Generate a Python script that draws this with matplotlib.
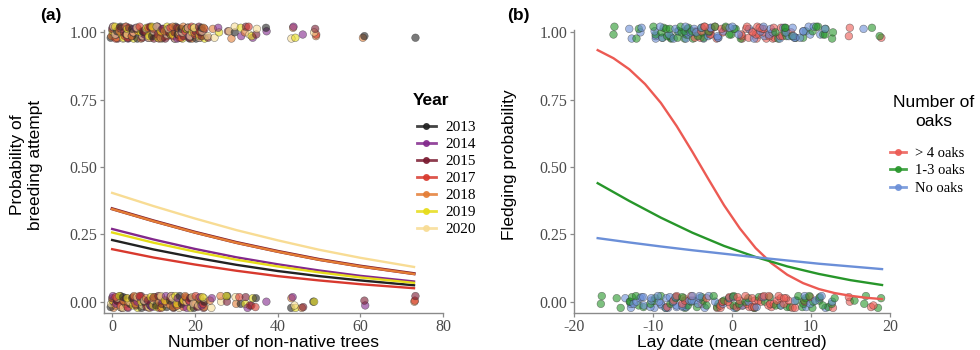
import matplotlib
matplotlib.use("Agg")
import matplotlib.pyplot as plt
from matplotlib.lines import Line2D

SANS = "Liberation Sans"
SERIF = "Liberation Serif"

# ---- panel (a): breeding attempt vs non-native trees ----
years = ["2013", "2014", "2015", "2017", "2018", "2019", "2020"]
year_colors = ["#222222", "#82288c", "#7a1a30", "#d8392e", "#e47d35", "#e6dc18", "#f8dc94"]

tree_x = [0, 10, 20, 30, 40, 50, 60, 73]
fit_a = {
    "2013": [0.229, 0.194, 0.164, 0.137, 0.114, 0.095, 0.079, 0.061],
    "2014": [0.270, 0.231, 0.196, 0.165, 0.139, 0.116, 0.096, 0.075],
    "2015": [0.345, 0.300, 0.258, 0.220, 0.187, 0.157, 0.132, 0.104],
    "2017": [0.195, 0.164, 0.138, 0.115, 0.095, 0.079, 0.065, 0.050],
    "2018": [0.344, 0.299, 0.257, 0.219, 0.186, 0.156, 0.131, 0.103],
    "2019": [0.257, 0.219, 0.186, 0.156, 0.131, 0.109, 0.090, 0.070],
    "2020": [0.404, 0.355, 0.309, 0.266, 0.228, 0.193, 0.163, 0.129],
}

bred_trees = {
    "2013": [0, 1, 2, 3, 5, 6, 8, 9, 10, 12, 13, 15, 16, 18, 19, 21, 22, 0, 4, 7, 11, 14, 17, 20, 30, 37, 61, 73],
    "2014": [0, 1, 2, 4, 5, 6, 7, 9, 10, 11, 13, 14, 15, 17, 18, 19, 21, 22, 3, 8, 12, 16, 20, 26, 31, 34, 37, 44, 46],
    "2015": [0, 1, 3, 4, 5, 7, 8, 9, 11, 12, 13, 15, 16, 17, 19, 20, 21, 2, 6, 10, 14, 18, 22, 23, 28, 32, 35, 49],
    "2017": [0, 2, 3, 4, 6, 7, 8, 10, 11, 12, 14, 15, 16, 18, 19, 20, 22, 1, 5, 9, 13, 17, 21, 33, 49],
    "2018": [0, 1, 2, 3, 4, 6, 7, 8, 10, 11, 12, 14, 15, 16, 18, 19, 20, 22, 5, 9, 13, 17, 21, 24, 29, 32, 44, 49, 61],
    "2019": [0, 1, 2, 4, 5, 7, 8, 9, 11, 12, 13, 15, 16, 17, 19, 20, 21, 3, 6, 10, 14, 18, 22, 26, 31, 34, 44],
    "2020": [1, 2, 3, 5, 6, 7, 9, 10, 11, 13, 14, 15, 17, 18, 19, 21, 22, 0, 4, 8, 12, 16, 20, 23, 25, 28, 30, 33, 35, 43, 49],
}
nobred_trees = {
    "2013": [0, 1, 2, 4, 5, 7, 8, 10, 11, 13, 14, 16, 17, 19, 20, 22, 3, 9, 15, 21, 28, 31, 35, 43, 49],
    "2014": [0, 1, 3, 4, 6, 7, 9, 10, 12, 13, 15, 16, 18, 19, 21, 22, 2, 8, 14, 20, 24, 33, 37, 44, 61],
    "2015": [0, 2, 3, 5, 6, 8, 9, 11, 12, 14, 15, 17, 18, 20, 21, 1, 7, 13, 19, 22, 28, 32, 34, 46, 61, 73],
    "2017": [0, 1, 2, 4, 5, 7, 8, 10, 11, 13, 14, 16, 17, 19, 20, 22, 6, 12, 18, 31, 33, 35, 73],
    "2018": [1, 2, 3, 5, 6, 8, 9, 11, 12, 14, 15, 17, 18, 20, 21, 0, 4, 10, 16, 22, 24, 26, 30, 43, 46, 73],
    "2019": [0, 2, 3, 4, 6, 7, 9, 10, 12, 13, 15, 16, 18, 19, 21, 22, 5, 11, 17, 28, 32, 34, 44, 49],
    "2020": [0, 1, 3, 4, 6, 7, 9, 10, 12, 13, 15, 16, 18, 19, 21, 2, 8, 14, 20, 22, 24, 26, 30, 44],
}

# ---- panel (b): fledging vs lay date ----
oak_groups = ["> 4 oaks", "1-3 oaks", "No oaks"]
oak_colors = ["#ec5a53", "#27962a", "#6b8fd8"]

red_x = [-17, -15, -13, -11, -9, -7, -5, -3, -1, 1, 3, 5, 7, 9, 11, 13, 15, 17, 19]
red_fit = [0.934, 0.904, 0.863, 0.808, 0.738, 0.652, 0.556, 0.456, 0.358, 0.272,
           0.199, 0.143, 0.100, 0.069, 0.047, 0.032, 0.022, 0.0145, 0.0097]
lin_x = [-17, -13, -9, -5, -1, 3, 7, 11, 15, 19]
green_fit = [0.440, 0.374, 0.312, 0.256, 0.207, 0.166, 0.131, 0.103, 0.080, 0.062]
blue_fit = [0.236, 0.220, 0.205, 0.191, 0.178, 0.165, 0.153, 0.141, 0.131, 0.121]

fledged_lay = {
    "> 4 oaks": [-4.5, -4, -3.5, -3, -2.5, -2, -1, -1, 1.5, 2, 2.5, 3, 3.5, 4, 4.5, 5, 5.5, 6,
                 -4, -3, 2, 3, 4, 5, 7.7, 14.8, 14.8, 18.7,
                 -4.5, -3.5, -2.5, -1.5, 1.5, 2.5, 3.5, 4.5, 5.5, -3, -2, 1, 2, 3, 4, 6, 6.5],
    "1-3 oaks": [-15, -15, -12, -12, -9, -8.5, -8, -7.5, -7, -6.5, -6, -5.5, -5, -4.5, -4, -8, -7, -6,
                 -1, 0, 0.4, 6, 6.5, 7, 7.5, 9, 10, 11, 11.5, 12, 12.5, 13, 17.6, 18.7, -9, -5,
                 -10, -9.5, -8.5, -7.5, -6.5, -5.5, -4.5, -3.5, -3, -2, -0.5, 0.5, 1, 5.5, 6.5,
                 7, 8, 9.5, 10.5, 12, -8, -6, -4],
    "No oaks": [-13, -12.9, -11.5, -11.5, -9.5, -9, -6.5, -6, -5.5, -5, -3.5, -3, -2.5, -2, -1.5,
                3.5, 4, 4.5, 5, 6, 7, 7.5, 8, 8.5, 9, 9.5, 10, 16.6, -9.5, -6, -2.5, 4, 8,
                -10, -9, -8, -7, -6, -5, -4, -3, -2, -1, 0, 1, 2, 3, 5, 6.5, 7, 8, 9, 10.5,
                11, 12, -7.5, -4.5, -0.5],
}
failed_lay = {
    "> 4 oaks": [-8, -7.5, -7, -6.5, -6, -1.5, -1, -0.5, 0, 0.5, 1, 1.5, 2, 2.5, 3, 3.5, 4, 4.5, 5,
                 5.5, 6, 6.5, 7, 7.5, -1, 0, 1, 2, 3, 4, 5, 6, 13, 14.8, 14.8, 17.7, 17.7,
                 -6, -5, -4, -3, -2, -0.5, 0.5, 1.5, 2.5, 3.5, 4.5, 5.5, 6.5, 8, 9, 10, -1.5, 3, 7],
    "1-3 oaks": [-16.6, -16.6, -14.8, -14, -13, -12.5, -12, -11, -10, -9, -8, -7, -6, -5, -4, -3, -2,
                 -1, 0, 1, 2, 3, 4, 5, 6, 7, 8, 8.5, 9, 9.5, 10, 10.5, 11, 11.5, 12, 15.6, 16.9,
                 16.9, 18.7, 18.7, -13, -7, 0, 9, 11,
                 -12, -10.5, -9.5, -8.5, -7.5, -6.5, -5.5, -4.5, -3.5, -2.5, -1.5, -0.5, 0.5,
                 1.5, 3.5, 5.5, 7.5, 9, 10, 12.5, 13],
    "No oaks": [-13.5, -13, -12, -11.5, -11, -10.5, -10, -9.5, -9, -8.5, -8, -7.5, -7, -6.5, -6, -5.5,
                -5, -4.5, -4, -3.5, -2, 0, 1.5, 3, 8, 9, 10, 11, 12, 12.5, -11, -9, -7, -5, -4,
                -12.5, -11.5, -10, -9, -8, -7, -6, -5, -3, -1, -0.5, 0.5, 2, 4, 6, 9.5, 10.5,
                11.5, -13, -10, -8.5],
}

# deterministic jitter pattern (display offsets only)
JIT_Y = [-0.02, 0.004, 0.021, -0.008, 0.013, -0.023, 0.0, 0.017, -0.014]
JIT_X = [-0.35, 0.2, 0.0, 0.35, -0.15, 0.1, -0.25, 0.3]


def jittered(xs, level, xscale, k):
    jx = [x + JIT_X[(i + k) % len(JIT_X)] * xscale for i, x in enumerate(xs)]
    jy = [level + JIT_Y[(i + 2 * k) % len(JIT_Y)] for i in range(len(xs))]
    return jx, jy


def scatter_mixed(ax, groups, colors, data_hi, data_lo, xscale):
    # collect all groups then draw left-to-right so colours interleave
    pts = []
    for k, (g, col) in enumerate(zip(groups, colors)):
        for xs, lvl in ((data_hi[g], 1.0), (data_lo[g], 0.0)):
            jx, jy = jittered(xs, lvl, xscale, k)
            pts += [(a, b, col) for a, b in zip(jx, jy)]
    pts.sort(key=lambda p: (round(p[0]), p[1]))
    ax.scatter([p[0] for p in pts], [p[1] for p in pts], s=30, c=[p[2] for p in pts],
               alpha=0.6, edgecolor="#333333", linewidth=0.4, zorder=2)


def style_axes(ax, xticks, xlabels):
    for s in ("top", "right"):
        ax.spines[s].set_visible(False)
    for s in ("left", "bottom"):
        ax.spines[s].set_color("#8a8a8a")
        ax.spines[s].set_linewidth(1.0)
    ax.spines["left"].set_bounds(-0.042, 1.01)
    ax.tick_params(colors="#8a8a8a", labelcolor="#4a4a4a", length=3, width=0.9, pad=1.5)
    ax.set_xticks(xticks)
    ax.set_xticklabels(xlabels, family=SERIF, fontsize=11.5)
    ax.set_yticks([0, 0.25, 0.5, 0.75, 1.0])
    ax.set_yticklabels(["0.00", "0.25", "0.50", "0.75", "1.00"], family=SERIF, fontsize=11.5)
    ax.set_ylim(-0.042, 1.06)


fig = plt.figure(figsize=(9.8, 3.5), dpi=100)
ax_a = fig.add_axes([0.106, 0.1057, 0.346, 0.848])
ax_b = fig.add_axes([0.5857, 0.1057, 0.3224, 0.848])

# panel a
scatter_mixed(ax_a, years, year_colors, bred_trees, nobred_trees, 1.0)
for yr, col in zip(years, year_colors):
    lw = 2.3 if yr == "2015" else 1.7
    ax_a.plot(tree_x, fit_a[yr], color=col, lw=lw, zorder=3)

ax_a.set_xlim(-2, 80)
style_axes(ax_a, [0, 20, 40, 60, 80], ["0", "20", "40", "60", "80"])
ax_a.set_xlabel("Number of non-native trees", family=SANS, fontsize=12.5, labelpad=0)
ax_a.set_ylabel("Probability of\nbreeding attempt", family=SANS, fontsize=12.5)
ax_a.yaxis.set_label_coords(-0.18, 0.5)

handles_a = [Line2D([0], [0], color=c, lw=2, marker="o", markersize=4, alpha=0.85)
             for c in year_colors]
fig.text(0.4215, 0.714, "Year", family=SANS, fontsize=12.5, weight="bold", va="center")
fig.legend(handles_a, years, loc="upper left", bbox_to_anchor=(0.425, 0.656),
           frameon=False, prop={"family": SERIF, "size": 11},
           handlelength=1.3, handletextpad=0.6, labelspacing=0.22, borderaxespad=0,
           borderpad=0)

# panel b
scatter_mixed(ax_b, oak_groups, oak_colors, fledged_lay, failed_lay, 0.6)
ax_b.plot(red_x, red_fit, color=oak_colors[0], lw=1.7, zorder=3)
ax_b.plot(lin_x, green_fit, color=oak_colors[1], lw=1.7, zorder=3)
ax_b.plot(lin_x, blue_fit, color=oak_colors[2], lw=1.7, zorder=3)

ax_b.set_xlim(-19.5, 20)
style_axes(ax_b, [-20, -10, 0, 10, 20], ["-20", "-10", "0", "10", "20"])
ax_b.set_xlabel("Lay date (mean centred)", family=SANS, fontsize=12.5, labelpad=0)
ax_b.set_ylabel("Fledging probability", family=SANS, fontsize=12.5)
ax_b.yaxis.set_label_coords(-0.18, 0.5)

handles_b = [Line2D([0], [0], color=c, lw=2, marker="o", markersize=4, alpha=0.85)
             for c in oak_colors]
fig.text(0.953, 0.68, "Number of\noaks", family=SANS, fontsize=12.5, ha="center",
         va="center", linespacing=1.35)
fig.legend(handles_b, oak_groups, loc="upper left", bbox_to_anchor=(0.908, 0.581),
           frameon=False, prop={"family": SERIF, "size": 10.5},
           handlelength=1.1, handletextpad=0.6, labelspacing=0.3, borderaxespad=0,
           borderpad=0)

fig.text(0.041, 0.957, "(a)", family=SANS, fontsize=12.5, weight="bold", va="center")
fig.text(0.517, 0.957, "(b)", family=SANS, fontsize=12.5, weight="bold", va="center")

fig.savefig("out.png", dpi=100)
